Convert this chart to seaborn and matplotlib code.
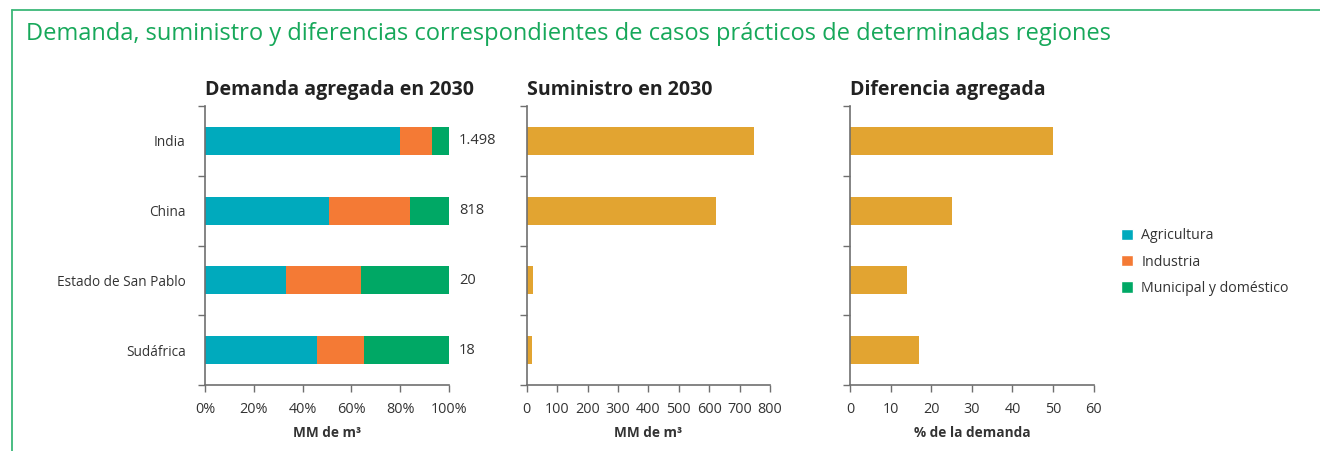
import matplotlib
matplotlib.use("Agg")
import matplotlib.pyplot as plt
import seaborn as sns
import pandas as pd
import numpy as np
from matplotlib.patches import Patch
from matplotlib.lines import Line2D

sns.set_theme(style="white")
plt.rcParams['font.family'] = ['Open Sans', 'DejaVu Sans']

regions = ["India", "China", "Estado de San Pablo", "Sudáfrica"]
agricultura = [80, 51, 33, 46]
industria = [13, 33, 31, 19]
municipal = [7, 16, 36, 35]
total_demanda = ["1.498", "818", "20", "18"]
suministro = [747, 622, 21, 16]
diferencia = [50, 25, 14, 17]

C_AGR = "#00aabd"
C_IND = "#f47a35"
C_MUN = "#00a865"
C_GOLD = "#e2a431"
GREEN = "#17a85a"
SPINE = "#6f6f6f"
TXT = "#333333"

fig = plt.figure(figsize=(13.2, 4.51), dpi=100)

# frame
fig.add_artist(Line2D([12/1320, 1.0], [1 - 10/451, 1 - 10/451], color="#3cb878", lw=1.3))
fig.add_artist(Line2D([12/1320, 12/1320], [0, 1 - 10/451], color="#3cb878", lw=1.3))
fig.text(26/1320, 1 - 34/451, "Demanda, suministro y diferencias correspondientes de casos prácticos de determinadas regiones",
         color=GREEN, fontsize=17, va="center", ha="left")

bottom = 1 - 385/451
height = (385 - 106) / 451
ax1 = fig.add_axes([205/1320, bottom, 244/1320, height])
ax2 = fig.add_axes([526.7/1320, bottom, 243.3/1320, height])
ax3 = fig.add_axes([850.3/1320, bottom, 243.3/1320, height])

df = pd.DataFrame({"region": regions, "agr": agricultura, "ind": industria, "mun": municipal,
                   "sum": suministro, "dif": diferencia})
df["c1"] = df["agr"]
df["c2"] = df["agr"] + df["ind"]
df["c3"] = df["agr"] + df["ind"] + df["mun"]

w = 0.4
kw = dict(order=regions, width=w, saturation=1, linewidth=0)
sns.barplot(data=df, y="region", x="c3", color=C_MUN, ax=ax1, **kw)
sns.barplot(data=df, y="region", x="c2", color=C_IND, ax=ax1, **kw)
sns.barplot(data=df, y="region", x="c1", color=C_AGR, ax=ax1, **kw)
sns.barplot(data=df, y="region", x="sum", color=C_GOLD, ax=ax2, **kw)
sns.barplot(data=df, y="region", x="dif", color=C_GOLD, ax=ax3, **kw)

for i, t in enumerate(total_demanda):
    ax1.text(104, i, t, va="center", ha="left", fontsize=10.5, color=TXT)

def style(ax, xlim, xticks, xticklabels, title, xlabel, ylabels):
    ax.set_xlim(*xlim)
    ax.set_ylim(3.5, -0.5)
    ax.set_xticks(xticks)
    ax.set_xticklabels(xticklabels, fontsize=10.4, color=TXT)
    ax.set_yticks(range(len(regions)))
    ax.set_yticklabels(regions if ylabels else [], fontsize=9.8, color=TXT)
    ax.set_yticks([-0.5, 0.5, 1.5, 2.5, 3.5], minor=True)
    ax.tick_params(axis="y", which="major", length=0, pad=14)
    ax.tick_params(axis="y", which="minor", length=5, width=1, color=SPINE, direction="out", left=True)
    ax.tick_params(axis="x", which="major", length=5, width=1, color=SPINE, direction="out", bottom=True, pad=7)
    for s in ["top", "right"]:
        ax.spines[s].set_visible(False)
    for s in ["left", "bottom"]:
        ax.spines[s].set_color(SPINE)
        ax.spines[s].set_linewidth(1.2)
    ax.set_ylabel("")
    ax.set_xlabel(xlabel, fontsize=9.8, fontweight="bold", color=TXT, labelpad=7)
    ax.set_title(title, loc="left", fontsize=14, fontweight="bold", color="#222222", pad=8)

style(ax1, (0, 100), [0, 20, 40, 60, 80, 100], ["0%", "20%", "40%", "60%", "80%", "100%"],
      "Demanda agregada en 2030", "MM de m³", True)
style(ax2, (0, 800), list(range(0, 801, 100)), [str(v) for v in range(0, 801, 100)],
      "Suministro en 2030", "MM de m³", False)
style(ax3, (0, 60), list(range(0, 61, 10)), [str(v) for v in range(0, 61, 10)],
      "Diferencia agregada", "% de la demanda", False)

handles = [Patch(facecolor=C_AGR, label="Agricultura"),
           Patch(facecolor=C_IND, label="Industria"),
           Patch(facecolor=C_MUN, label="Municipal y doméstico")]
fig.legend(handles=handles, loc="center left", bbox_to_anchor=(1108/1320, 1 - 262/451), frameon=False,
           fontsize=10.2, handlelength=0.85, handleheight=0.85, handletextpad=0.6, labelspacing=0.8,
           labelcolor=TXT)

fig.savefig("out.png", dpi=100)
